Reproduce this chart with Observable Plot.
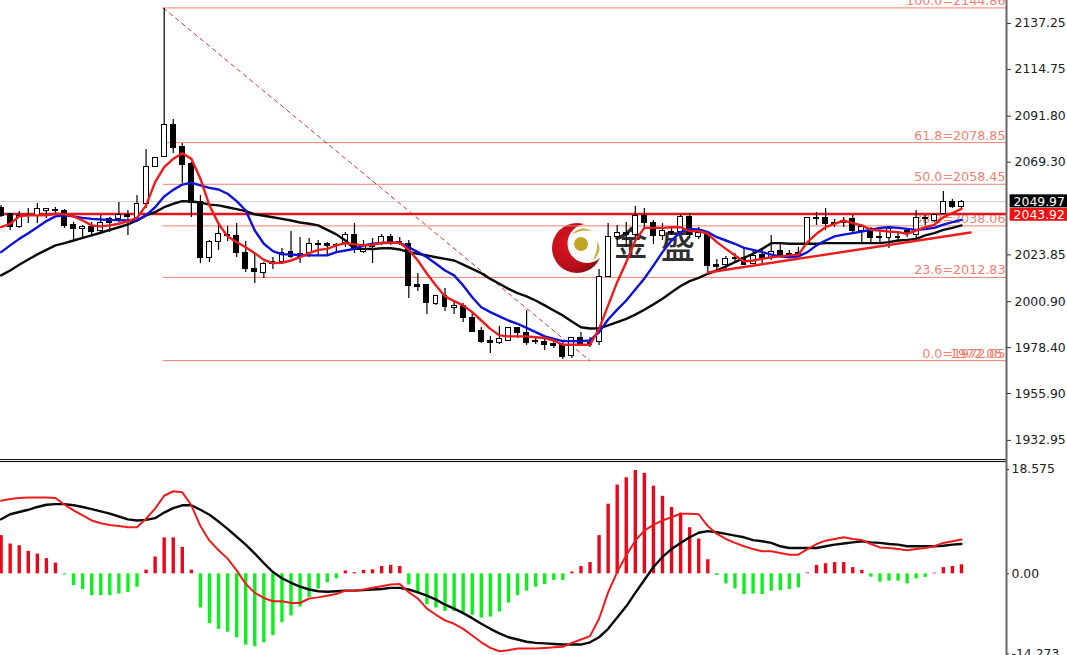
<!DOCTYPE html>
<html>
<head>
<meta charset="utf-8">
<script src="https://cdn.jsdelivr.net/npm/d3@7"></script>
<script src="https://cdn.jsdelivr.net/npm/@observablehq/plot@0.6"></script>
<style>
html,body{margin:0;padding:0;background:#fff;overflow:hidden}
#chart{width:1067px;height:655px;overflow:hidden}
#chart svg{display:block;background:transparent}
</style>
</head>
<body>
<div id="chart"></div>
<script>
const opens=[2046.6,2044.1,2037.3,2043.2,2042.7,2045.6,2045.4,2045.6,2038.3,2036.3,2037.3,2035.8,2041.2,2041.2,2043.2,2041.7,2049.0,2066.7,2071.6,2087.7,2076.5,2068.6,2050.0,2022.1,2030.4,2033.4,2032.9,2025.0,2016.7,2015.2,2019.6,2020.6,2025.5,2022.6,2025.0,2029.0,2029.4,2028.5,2029.9,2033.8,2025.5,2028.0,2029.9,2032.4,2030.4,2029.4,2008.9,2008.9,2000.0,2003.5,1997.6,1998.6,1992.7,1986.8,1981.9,1980.9,1981.9,1987.8,1985.8,1981.9,1981.4,1980.4,1979.5,1974.1,1982.9,1980.9,1981.4,2012.8,2032.4,2034.8,2033.8,2042.7,2039.7,2032.9,2035.3,2035.3,2042.2,2032.4,2033.4,2018.7,2018.7,2022.1,2022.1,2019.6,2024.0,2022.1,2026.0,2024.5,2025.0,2029.4,2041.7,2041.7,2039.7,2040.7,2041.2,2035.8,2036.3,2032.4,2031.9,2032.4,2035.8,2033.8,2041.7,2040.7,2044.1,2050.0,2047.1];
const closes=[2042.7,2037.3,2042.7,2043.6,2046.1,2046.1,2045.8,2037.8,2036.3,2037.3,2035.3,2039.7,2039.7,2043.6,2042.2,2049.0,2066.7,2071.1,2087.7,2076.0,2068.1,2049.5,2022.1,2030.4,2034.3,2032.9,2025.0,2016.7,2015.7,2019.6,2020.6,2025.0,2022.6,2024.5,2029.4,2028.9,2028.4,2028.3,2033.4,2026.5,2028.5,2027.5,2032.4,2029.9,2029.9,2008.4,2007.9,2000.5,2003.5,1998.1,1999.0,1992.7,1986.3,1981.4,1980.9,1982.4,1987.8,1985.8,1980.9,1981.4,1979.9,1979.0,1973.6,1982.9,1980.4,1979.9,2012.8,2032.4,2034.8,2033.8,2042.7,2039.7,2032.9,2035.8,2034.8,2042.2,2033.4,2034.8,2018.2,2017.7,2021.6,2021.6,2019.1,2023.5,2022.1,2025.5,2024.0,2024.0,2024.5,2041.7,2041.2,2039.2,2039.2,2039.7,2035.8,2037.3,2031.9,2031.9,2036.3,2031.9,2034.3,2041.7,2041.2,2043.6,2050.0,2047.1,2049.97];
const highs=[2048.0,2044.1,2045.1,2046.6,2049.0,2046.6,2047.1,2046.1,2039.7,2038.3,2039.7,2043.2,2042.2,2049.5,2045.6,2053.0,2075.5,2071.6,2144.6,2090.2,2078.4,2069.1,2053.0,2030.9,2039.7,2037.8,2039.2,2030.4,2024.5,2020.1,2022.6,2027.0,2035.3,2032.4,2031.9,2030.9,2029.9,2029.4,2034.8,2039.2,2030.9,2031.9,2033.8,2033.8,2032.4,2030.9,2014.7,2008.9,2003.5,2007.4,2001.5,2000.0,1995.2,1988.3,1983.9,1988.8,1988.3,1988.3,1996.6,1983.9,1983.9,1981.4,1980.9,1983.4,1985.8,1983.4,2016.7,2039.2,2038.3,2039.7,2047.6,2046.6,2040.7,2039.2,2037.3,2043.6,2044.1,2037.3,2034.3,2021.6,2023.1,2024.5,2027.0,2026.0,2026.0,2033.4,2029.9,2026.0,2027.5,2041.7,2044.6,2046.6,2041.2,2042.2,2043.2,2037.3,2037.3,2035.8,2036.8,2034.8,2036.8,2045.6,2043.2,2043.6,2054.9,2051.0,2050.5];
const lows=[2042.2,2035.8,2036.8,2039.2,2039.2,2041.7,2043.2,2036.8,2030.9,2032.4,2032.9,2034.3,2034.8,2039.7,2033.4,2039.7,2046.6,2066.7,2071.6,2073.5,2058.8,2042.2,2019.6,2020.1,2026.0,2030.4,2022.6,2015.2,2009.8,2012.3,2016.7,2020.6,2022.1,2019.6,2022.6,2023.5,2023.5,2025.0,2027.5,2024.5,2024.5,2019.6,2028.4,2028.4,2028.4,2002.5,2005.9,1994.6,1999.0,1996.1,1994.6,1990.7,1985.8,1980.4,1975.5,1979.9,1981.9,1982.9,1979.5,1979.9,1977.0,1978.0,1972.6,1973.1,1979.5,1978.5,1979.5,2012.8,2027.5,2027.5,2032.4,2036.8,2028.9,2030.9,2033.4,2034.8,2032.4,2031.4,2014.7,2016.2,2015.7,2020.1,2018.7,2019.1,2019.6,2021.1,2023.1,2022.1,2022.6,2028.4,2038.3,2035.8,2037.3,2037.3,2034.8,2029.4,2029.9,2029.9,2027.0,2030.4,2032.4,2031.9,2038.3,2039.7,2044.1,2046.6,2046.6];

const maFast=[2037.4,2039.1,2042.7,2043.2,2043.2,2043.2,2044.0,2043.7,2042.7,2040.7,2038.3,2037.8,2038.3,2039.1,2040.4,2042.0,2048.1,2059.5,2066.8,2070.9,2073.7,2070.9,2061.1,2048.1,2039.1,2032.9,2030.1,2027.6,2024.7,2021.4,2019.8,2020.0,2021.1,2022.7,2024.7,2026.3,2026.8,2028.5,2029.6,2029.0,2028.5,2028.8,2029.8,2029.8,2029.8,2026.3,2021.1,2014.6,2008.9,2003.5,2001.2,1999.1,1995.8,1991.7,1987.6,1984.4,1983.9,1983.9,1983.9,1983.5,1983.1,1981.9,1979.8,1979.8,1979.8,1979.8,1987.6,1999.1,2010.5,2020.3,2030.9,2037.1,2037.1,2037.1,2037.4,2037.4,2035.5,2035.5,2034.2,2030.1,2026.8,2023.6,2020.6,2021.1,2021.9,2022.7,2023.1,2023.6,2024.0,2030.1,2034.2,2037.4,2039.1,2040.7,2039.4,2038.3,2036.1,2035.8,2035.3,2035.0,2034.2,2035.8,2037.4,2038.6,2042.3,2044.3,2046.4];
const maMid=[2025.2,2028.5,2031.7,2034.5,2037.4,2040.4,2042.7,2043.2,2042.7,2042.0,2041.5,2041.2,2041.0,2040.9,2040.7,2040.7,2043.2,2047.2,2052.5,2055.7,2058.3,2059.2,2057.9,2056.7,2055.9,2053.8,2050.2,2045.6,2035.8,2029.3,2025.7,2024.1,2024.1,2023.7,2023.6,2023.6,2023.6,2025.2,2026.0,2026.8,2028.5,2029.3,2029.6,2029.8,2029.8,2027.6,2025.2,2022.7,2019.5,2016.2,2013.8,2008.9,2003.1,1998.2,1995.8,1993.7,1991.7,1990.1,1988.1,1986.0,1983.9,1982.7,1981.6,1981.6,1981.6,1981.9,1986.0,1992.2,1997.0,2001.5,2006.9,2012.3,2018.6,2025.2,2030.9,2035.0,2036.6,2036.3,2035.0,2032.5,2030.9,2029.3,2027.3,2026.3,2025.2,2024.0,2023.1,2022.7,2023.1,2025.2,2028.5,2030.9,2032.9,2033.8,2034.5,2035.3,2036.1,2037.1,2037.4,2037.1,2036.6,2036.1,2036.5,2037.1,2038.7,2039.9,2041.0];
const maSlow=[2013.8,2016.2,2019.0,2021.6,2024.1,2026.3,2028.5,2029.6,2030.9,2032.2,2033.4,2034.7,2036.1,2037.4,2038.8,2040.7,2043.2,2044.8,2047.2,2048.9,2050.2,2050.0,2049.5,2048.5,2048.1,2047.2,2046.3,2045.3,2043.7,2043.0,2042.3,2041.5,2040.7,2039.7,2039.1,2038.3,2036.1,2033.9,2030.9,2026.8,2026.8,2026.7,2027.1,2027.1,2026.5,2025.2,2024.4,2023.6,2022.7,2021.9,2021.1,2019.1,2017.0,2014.9,2012.1,2009.7,2007.2,2005.1,2003.5,2001.5,1999.1,1996.6,1994.2,1991.2,1988.4,1987.8,1987.9,1989.3,1990.9,1992.5,1994.6,1997.0,1999.6,2002.4,2005.5,2008.6,2011.0,2012.6,2014.6,2016.2,2018.2,2020.3,2022.4,2024.4,2026.8,2029.6,2029.6,2029.3,2029.3,2029.3,2029.3,2029.6,2029.6,2029.6,2029.6,2029.6,2029.6,2029.6,2030.1,2030.9,2031.2,2031.7,2033.4,2034.5,2036.1,2037.1,2038.3];

const macdHist=[6.8,5.3,5.0,4.0,3.5,2.7,1.9,-0.2,-2.1,-2.8,-3.9,-3.9,-3.9,-3.6,-3.3,-2.4,0.65,3.0,6.4,6.4,4.7,0.65,-6.1,-8.9,-9.9,-10.4,-11.4,-12.7,-13.0,-12.3,-11.0,-8.7,-7.5,-5.9,-4.2,-2.7,-1.6,-0.9,0.5,0.2,0.6,0.7,1.3,1.5,1.3,-2.0,-3.6,-5.5,-6.1,-6.7,-6.7,-6.9,-7.4,-7.9,-7.7,-6.8,-5.2,-3.9,-3.1,-2.4,-1.9,-1.2,-1.2,0.3,1.3,2.0,6.8,12.4,15.8,17.1,18.4,17.9,15.6,13.8,11.8,10.8,8.2,6.2,2.5,-0.3,-1.8,-2.7,-3.7,-3.6,-3.7,-3.1,-3.0,-2.8,-2.5,0.15,1.5,1.8,2.0,2.0,1.1,0.6,-0.6,-1.5,-1.3,-1.3,-1.8,-0.9,-0.65,0.12,1.1,1.3,1.6];
const macdFast=[13.0,13.3,13.5,13.6,13.6,13.6,13.5,12.3,11.3,10.4,9.5,9.0,8.7,8.5,8.3,8.3,9.8,11.6,13.9,14.7,14.5,12.2,8.5,5.9,4.2,2.7,0.6,-1.8,-3.4,-4.3,-4.9,-4.9,-5.2,-5.2,-4.4,-4.2,-3.9,-3.6,-3.0,-3.0,-2.8,-2.5,-2.2,-1.9,-1.8,-3.3,-4.4,-6.2,-7.3,-8.3,-8.9,-9.8,-11.0,-12.2,-13.2,-13.8,-13.6,-13.3,-13.3,-13.3,-13.2,-13.1,-13.0,-12.3,-11.7,-11.1,-8.0,-3.3,0.3,3.3,5.9,7.7,8.7,9.5,10.1,10.7,10.7,10.6,8.5,7.1,6.2,5.5,4.9,4.4,4.0,4.0,3.7,3.4,3.4,4.4,5.3,5.9,6.2,6.5,6.2,6.0,5.3,4.7,4.6,4.4,4.2,4.4,4.6,4.9,5.5,5.8,6.1];
const macdSignal=[9.7,10.6,11.0,11.4,11.9,12.3,12.4,12.4,12.2,11.9,11.5,11.1,10.7,10.2,9.7,9.5,9.6,9.9,10.9,11.7,12.2,12.2,11.4,10.5,9.3,8.0,6.6,5.2,3.6,1.9,0.3,-0.8,-1.6,-2.3,-2.8,-3.1,-3.2,-3.1,-3.0,-3.0,-2.9,-2.8,-2.7,-2.5,-2.5,-2.8,-3.3,-3.9,-4.6,-5.5,-6.2,-7.0,-7.9,-8.9,-9.8,-10.6,-11.3,-11.7,-12.1,-12.3,-12.4,-12.5,-12.6,-12.6,-12.6,-12.2,-11.3,-9.8,-7.8,-5.8,-3.4,-1.1,1.2,3.0,4.4,5.5,6.5,7.3,7.6,7.4,7.1,6.8,6.5,6.0,5.8,5.5,4.9,4.6,4.6,4.6,4.6,4.9,5.2,5.4,5.6,5.8,5.6,5.5,5.3,5.2,4.9,4.9,4.9,4.9,5.0,5.2,5.3];

const priceTicks=[2137.25,2114.75,2091.80,2069.30,2023.85,2000.90,1978.40,1955.90,1932.95];
const macdTicks=[18.575,0,-14.273];
const macdTickLabels=["18.575","0.00","-14.273"];
const fibLevels=[2144.86,2078.85,2058.45,2038.06,2012.83,1972.05];
const fibLabels=["100.0=2144.86","61.8=2078.85","50.0=2058.45","38.2=2038.06","23.6=2012.83","0.0=1972.05"];
const fibStart=17.9, fibEnd=64.97;
const lastPrice=2049.97, levelPrice=2043.92;
const trendIdx=[78,107], trendVal=[2015.2,2034.8];
const watermark=[{t:"金",i:69.5,p:2028.4},{t:"盛",i:74.7,p:2027.5}];

const W=1067, RIGHT=61, INK="#222", FONT="'DejaVu Sans', Verdana, sans-serif";
const xDomain=[-0.066,110.97];
const xMax=xDomain[1];
const idx=d3.range(opens.length);
const bars=idx.map(i=>({i,o:opens[i],c:closes[i],h:highs[i],l:lows[i]}));
const HALF=0.27;
const series=(a)=>a.map((v,i)=>({i,v}));
const FIB="#f1806f";

// Brand mark behind the candles; it is decoration, not data.
function logo(){
  const g=d3.create("svg:g");
  const defs=g.append("defs");
  const rg=defs.append("radialGradient").attr("id","lg").attr("cx","35%").attr("cy","40%").attr("r","75%");
  rg.append("stop").attr("offset","0%").attr("stop-color","#e01522");
  rg.append("stop").attr("offset","70%").attr("stop-color","#b30f1a");
  rg.append("stop").attr("offset","100%").attr("stop-color","#6e0a10");
  g.append("circle").attr("cx",577).attr("cy",248).attr("r",25).attr("fill","url(#lg)");
  g.append("circle").attr("cx",587).attr("cy",243.5).attr("r",19.5).attr("fill","#fff");
  g.append("circle").attr("cx",581).attr("cy",244).attr("r",7).attr("fill","#c2a524");
  g.append("path").attr("d","M571,235 Q581,224 592,231 Q581,229 571,235 Z").attr("fill","#c9b24a");
  g.append("path").attr("d","M597,241 Q604,252 592,261 Q598,252 597,241 Z").attr("fill","#c9b24a");
  return g.node();
}

const pricePane=Plot.plot({
  width:W,height:458,marginLeft:0,marginRight:RIGHT,marginTop:0,marginBottom:0,
  style:{fontFamily:FONT,fontSize:"12px",background:"transparent",overflow:"visible"},
  x:{domain:xDomain,axis:null},
  y:{domain:[1924.08,2148.5],axis:null},
  marks:[
    logo,
    Plot.text(watermark,{x:"i",y:"p",text:"t",fontFamily:"'Noto Sans CJK SC'",fontSize:34,fill:"#2e2e2e",fontWeight:500}),
    Plot.ruleY(fibLevels,{x1:fibStart,x2:xMax,stroke:FIB,strokeWidth:1}),
    Plot.text(fibLevels,{x:xMax,y:d=>d,text:(d,j)=>fibLabels[j],textAnchor:"end",dx:-1,dy:-7,fill:FIB,fontSize:12.7}),
    Plot.text([fibLevels[5]],{x:xMax,y:d=>d,text:()=>"1972.05",textAnchor:"end",dx:-4,dy:-7,fill:FIB,fontSize:12.7}),
    Plot.line([[fibStart,fibLevels[0]],[fibEnd,fibLevels[5]]],{x:d=>d[0],y:d=>d[1],stroke:"#e3332e",strokeWidth:1,strokeDasharray:"4,4"}),
    Plot.ruleY([lastPrice],{x1:xDomain[0],x2:xMax,stroke:"#cfcfcf",strokeWidth:1}),
    Plot.ruleY([levelPrice],{x1:xDomain[0],x2:xMax,stroke:"#e2141c",strokeWidth:2.5}),
    Plot.ruleX(bars,{x:"i",y1:"l",y2:"h",stroke:"#000",strokeWidth:1.2}),
    Plot.rect(bars.filter(d=>d.c>=d.o),{x1:d=>d.i-HALF,x2:d=>d.i+HALF,y1:"o",y2:"c",fill:"#fff",stroke:"#000",strokeWidth:1,shapeRendering:"crispEdges"}),
    Plot.rect(bars.filter(d=>d.c<d.o),{x1:d=>d.i-HALF,x2:d=>d.i+HALF,y1:"o",y2:"c",fill:"#000",stroke:"#000",strokeWidth:1,shapeRendering:"crispEdges"}),
    Plot.line(series(maSlow),{x:"i",y:"v",stroke:"#0a0a0a",strokeWidth:2.4}),
    Plot.line(series(maMid),{x:"i",y:"v",stroke:"#0d12d6",strokeWidth:2.4}),
    Plot.line(series(maFast),{x:"i",y:"v",stroke:"#ec1c1c",strokeWidth:2.4}),
    Plot.line(trendIdx.map((t,j)=>[t,trendVal[j]]),{x:d=>d[0],y:d=>d[1],stroke:"#ec1c1c",strokeWidth:2.4}),
    Plot.ruleX([xMax],{stroke:"#666",strokeWidth:2}),
    Plot.axisY({anchor:"right",ticks:priceTicks,tickFormat:d=>d.toFixed(2),tickSize:4,tickPadding:4,fill:INK,stroke:"#333",fontSize:12.4,label:null}),
    Plot.rect([lastPrice],{x1:111.37,x2:118,y1:d=>d+3.3,y2:d=>d-3.1,fill:"#000"}),
    Plot.rect([levelPrice],{x1:111.37,x2:118,y1:d=>d+2.7,y2:d=>d-3.6,fill:"#f01010"}),
    Plot.text([lastPrice],{x:111.37,y:d=>d,text:d=>d.toFixed(2),textAnchor:"start",dx:3.5,fill:"#fff",fontSize:12.4}),
    Plot.text([levelPrice],{x:111.37,y:d=>d-0.6,text:d=>d.toFixed(2),textAnchor:"start",dx:3.5,fill:"#fff",fontSize:12.4})
  ]
});

const macdPane=Plot.plot({
  width:W,height:197,marginLeft:0,marginRight:RIGHT,marginTop:0,marginBottom:0,
  style:{fontFamily:FONT,fontSize:"12px",background:"transparent",overflow:"hidden"},
  x:{domain:xDomain,axis:null},
  y:{domain:[-14.55,20.53],axis:null},
  marks:[
    Plot.ruleY([20.33,19.98],{x1:xDomain[0],x2:xMax,stroke:"#000",strokeWidth:1}),
    Plot.ruleX(series(macdHist).filter(d=>d.v>=0),{x:"i",y1:0,y2:"v",stroke:"#e8081a",strokeWidth:3.4}),
    Plot.ruleX(series(macdHist).filter(d=>d.v<0),{x:"i",y1:0,y2:"v",stroke:"#10ee20",strokeWidth:3.4}),
    Plot.line(series(macdSignal),{x:"i",y:"v",stroke:"#0a0a0a",strokeWidth:2.4}),
    Plot.line(series(macdFast),{x:"i",y:"v",stroke:"#ec1c1c",strokeWidth:2}),
    Plot.ruleX([xMax],{stroke:"#666",strokeWidth:2}),
    Plot.axisY({anchor:"right",ticks:macdTicks,tickFormat:(d,j)=>macdTickLabels[macdTicks.indexOf(d)],tickSize:2,tickPadding:3,fill:INK,stroke:"#333",fontSize:12.4,label:null})
  ]
});

const host=document.getElementById("chart");
host.appendChild(pricePane);
host.appendChild(macdPane);
</script>
</body>
</html>
